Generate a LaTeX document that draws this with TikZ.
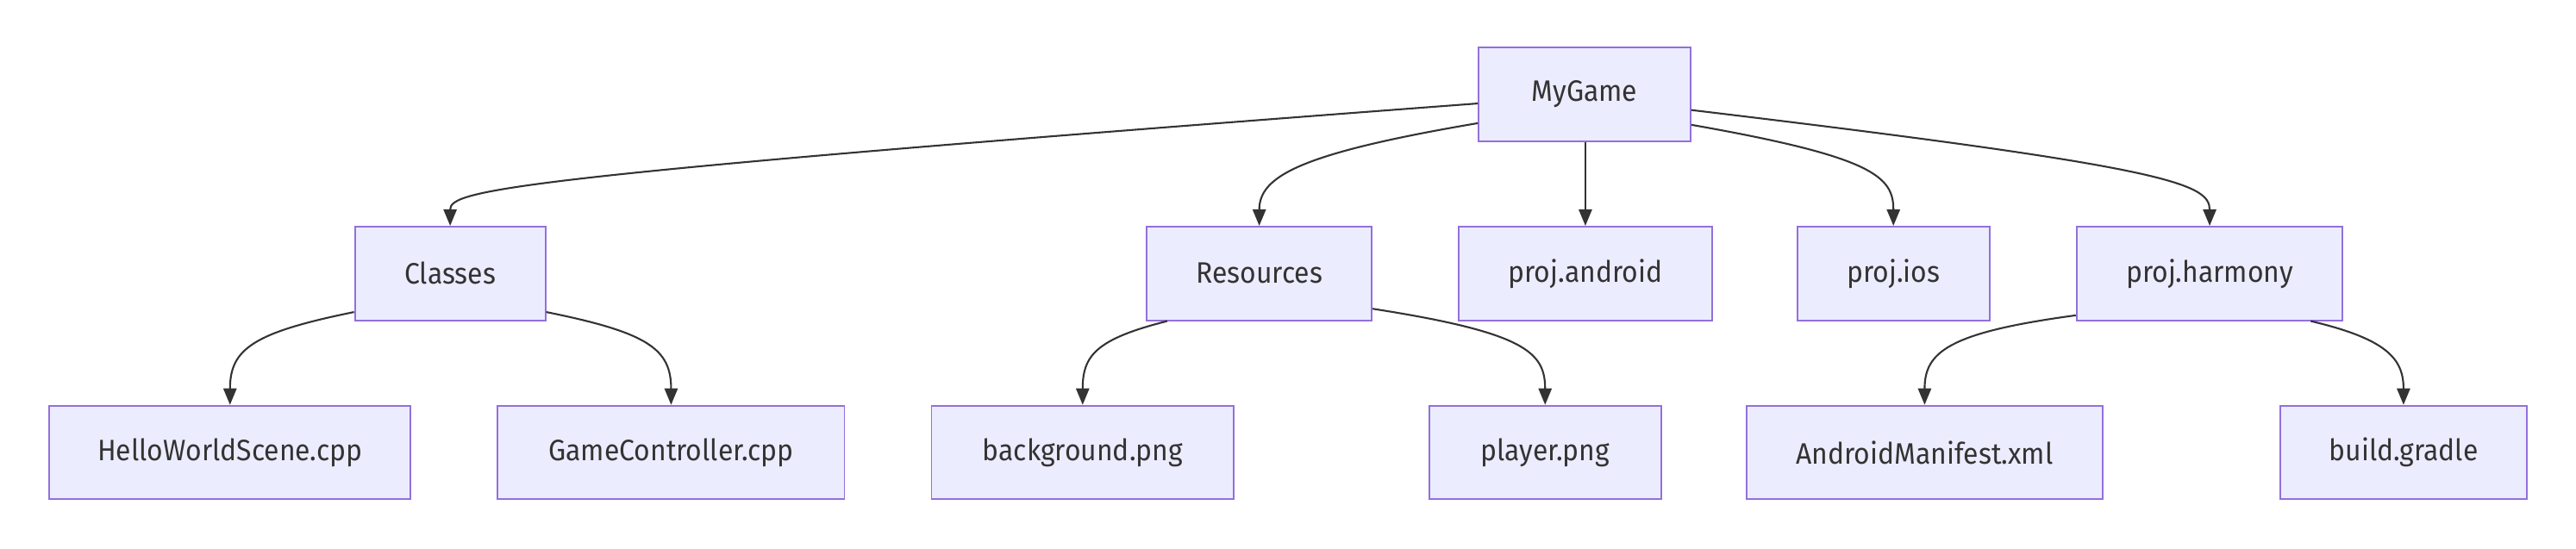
\documentclass[tikz,border=0pt]{standalone}
\usepackage{fontspec}
\setmainfont{Fira Sans}[FakeStretch=0.93]
\usetikzlibrary{arrows.meta,calc}
\definecolor{boxfill}{HTML}{ECECFF}
\definecolor{boxline}{HTML}{9370DB}
\definecolor{ink}{HTML}{333333}
\begin{document}
\begin{tikzpicture}[x=1pt,y=-1pt,
  box/.style={draw=boxline,fill=boxfill,line width=1pt,minimum height=57pt,inner sep=0pt,
     text=ink,font=\fontsize{18}{21}\selectfont},
  link/.style={draw=ink,line width=1.1pt,-{Triangle[length=10pt,width=8pt]}}]
\useasboundingbox (0,0) rectangle (1568,334);
\node[box,minimum width=129pt] (mg) at (964.5,57.5) {MyGame};
\node[box,minimum width=116pt] (cl) at (274,166.5) {Classes};
\node[box,minimum width=137pt] (rs) at (766.5,166.5) {Resources};
\node[box,minimum width=154pt] (an) at (965,166.5) {proj.android};
\node[box,minimum width=117pt] (io) at (1152.5,166.5) {proj.ios};
\node[box,minimum width=162pt] (hm) at (1345,166.5) {proj.harmony};
\node[box,minimum width=220pt] (hw) at (140,275.5) {HelloWorldScene.cpp};
\node[box,minimum width=211pt] (gc) at (408.5,275.5) {GameController.cpp};
\node[box,minimum width=184pt] (bg) at (659,275.5) {background.png};
\node[box,minimum width=141pt] (pl) at (940.5,275.5) {player.png};
\node[box,minimum width=217pt] (am) at (1171.5,275.5) {AndroidManifest.xml};
\node[box,minimum width=150pt] (bd) at (1463,275.5) {build.gradle};
% edges
\draw[link] ($(mg.west)+(0,5.5)$) .. controls ($(cl.north)+(34,-30)$) and ($(cl.north)+(0,-22)$) .. (cl.north);
\draw[link] ($(mg.west)+(0,17.5)$) .. controls ($(rs.north)+(24,-44)$) and ($(rs.north)+(0,-30)$) .. (rs.north);
\draw[link] (mg.south -| an.north) -- (an.north);
\draw[link] ($(mg.east)+(0,18.5)$) .. controls ($(io.north)+(-12,-42)$) and ($(io.north)+(0,-30)$) .. (io.north);
\draw[link] ($(mg.east)+(0,9.5)$) .. controls ($(hm.north)+(-26,-36)$) and ($(hm.north)+(0,-26)$) .. (hm.north);
\draw[link] ($(cl.west)+(0,23.5)$) .. controls ($(hw.north)+(14,-44)$) and ($(hw.north)+(0,-34)$) .. (hw.north);
\draw[link] ($(cl.east)+(0,23.5)$) .. controls ($(gc.north)+(-14,-44)$) and ($(gc.north)+(0,-34)$) .. (gc.north);
\draw[link] ($(rs.south west)+(13,0)$) .. controls ($(bg.north)+(8,-40)$) and ($(bg.north)+(0,-30)$) .. (bg.north);
\draw[link] ($(rs.east)+(0,21.5)$) .. controls ($(pl.north)+(-12,-44)$) and ($(pl.north)+(0,-32)$) .. (pl.north);
\draw[link] ($(hm.west)+(0,25.5)$) .. controls ($(am.north)+(14,-44)$) and ($(am.north)+(0,-32)$) .. (am.north);
\draw[link] ($(hm.south west)+(143,0)$) .. controls ($(bd.north)+(-10,-40)$) and ($(bd.north)+(0,-28)$) .. (bd.north);
\end{tikzpicture}
\end{document}
